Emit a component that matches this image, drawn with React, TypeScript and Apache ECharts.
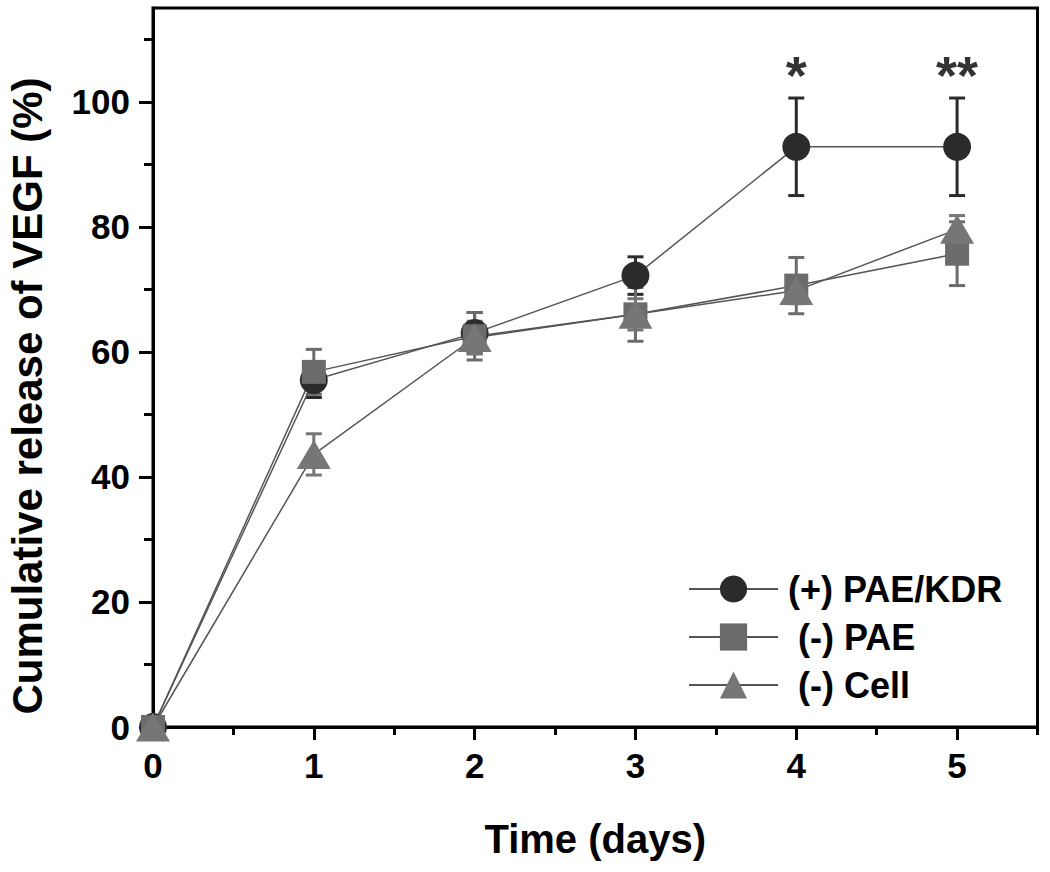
import React, { useEffect, useRef } from "react";
import * as echarts from "echarts";

const days = [0, 1, 2, 3, 4, 5];
const paeKdrMean = [0, 55.5, 63.0, 72.2, 92.8, 92.8];
const paeKdrErr = [0, 2.8, 3.3, 3.0, 7.8, 7.8];
const paeMean = [0, 56.8, 62.5, 66.0, 70.6, 75.7];
const paeErr = [0, 3.6, 3.8, 4.3, 4.5, 5.1];
const cellMean = [0, 43.6, 62.3, 66.0, 69.8, 79.6];
const cellErr = [0, 3.3, 2.6, 2.5, 2.1, 2.2];
const sigDays = [4, 5];
const sigLabels = ["*", "**"];
const seriesNames = ["(+) PAE/KDR", "(-) PAE", "(-) Cell"];
const xMajorTicks = [0, 1, 2, 3, 4, 5];
const xMinorTicks = [0.5, 1.5, 2.5, 3.5, 4.5, 5.5];
const yMajorTicks = [0, 20, 40, 60, 80, 100];
const yMinorTicks = [10, 30, 50, 70, 90, 110];

const FONT = "'Liberation Sans', Arial, Helvetica, sans-serif";
const C_CIRCLE = "#2b2b2b";
const C_SQUARE = "#6b6b6b";
const C_TRI = "#767676";
const C_LINE = "#555555";

const errRender = (color: string) => (params: any, api: any) => {
  const x = api.value(0);
  const lo = api.value(1);
  const hi = api.value(2);
  if (hi === lo) return null;
  const pLo = api.coord([x, lo]);
  const pHi = api.coord([x, hi]);
  const hw = 8;
  const style = { stroke: color, lineWidth: 3 };
  return {
    type: "group",
    children: [
      { type: "line", shape: { x1: pLo[0], y1: pLo[1], x2: pHi[0], y2: pHi[1] }, style },
      { type: "line", shape: { x1: pHi[0] - hw, y1: pHi[1], x2: pHi[0] + hw, y2: pHi[1] }, style },
      { type: "line", shape: { x1: pLo[0] - hw, y1: pLo[1], x2: pLo[0] + hw, y2: pLo[1] }, style },
    ],
  };
};

const errData = (mean: number[], err: number[]) =>
  days.map((d, i) => [d, mean[i] - err[i], mean[i] + err[i]]);

export default function App() {
  const ref = useRef<HTMLDivElement>(null);
  useEffect(() => {
    if (!ref.current) return;
    const chart = echarts.init(ref.current, undefined, { renderer: "svg" });
    const axisCommon = {
      type: "value" as const,
      splitLine: { show: false },
    };
    chart.setOption({
      animation: false,
      backgroundColor: "#ffffff",
      textStyle: { fontFamily: FONT },
      grid: {
        left: 153,
        right: 12.5,
        top: 8,
        bottom: 145,
        show: true,
        borderColor: "#000",
        borderWidth: 3,
        backgroundColor: "transparent",
      },
      xAxis: [
        {
          ...axisCommon,
          position: "bottom",
          min: 0,
          max: 5.5,
          interval: 0.5,
          axisLine: { show: true, lineStyle: { color: "#000", width: 3 } },
          axisTick: { show: true, inside: false, length: 13, customValues: xMajorTicks, lineStyle: { color: "#000", width: 3 } },
          axisLabel: {
            customValues: xMajorTicks,
            margin: 21,
            color: "#000",
            fontSize: 35,
            fontWeight: "bold",
            fontFamily: FONT,
          },
          name: "Time (days)",
          nameLocation: "middle",
          nameGap: 92,
          nameTextStyle: { fontSize: 40, fontWeight: "bold", color: "#000", fontFamily: FONT },
        },
        {
          ...axisCommon,
          position: "bottom",
          min: 0,
          max: 5.5,
          interval: 0.5,
          axisLine: { show: false },
          axisTick: { show: true, inside: false, length: 8, customValues: xMinorTicks, lineStyle: { color: "#000", width: 3 } },
          axisLabel: { show: false },
        },
      ],
      yAxis: [
        {
          ...axisCommon,
          position: "left",
          min: 0,
          max: 115,
          interval: 20,
          axisLine: { show: true, lineStyle: { color: "#000", width: 3 } },
          axisTick: { show: true, inside: false, length: 14, customValues: yMajorTicks, lineStyle: { color: "#000", width: 3 } },
          axisLabel: {
            customValues: yMajorTicks,
            margin: 23,
            color: "#000",
            fontSize: 35,
            fontWeight: "bold",
            fontFamily: FONT,
          },
        },
        {
          ...axisCommon,
          position: "left",
          min: 0,
          max: 115,
          interval: 10,
          axisLine: { show: false },
          axisTick: { show: true, inside: false, length: 9, customValues: yMinorTicks, lineStyle: { color: "#000", width: 3 } },
          axisLabel: { show: false },
        },
      ],
      legend: {
        orient: "vertical",
        left: 683,
        top: 566,
        itemWidth: 89,
        itemHeight: 34,
        itemGap: 12,
        textStyle: { fontSize: 36, fontWeight: "bold", color: "#000", fontFamily: FONT, lineHeight: 34 },
        data: [
          { name: seriesNames[0], textStyle: { padding: [0, 0, 0, 5] } },
          { name: seriesNames[1], textStyle: { padding: [0, 0, 0, 15] } },
          { name: seriesNames[2], textStyle: { padding: [0, 0, 0, 15] } },
        ],
      },
      graphic: [
        {
          type: "text",
          x: 27,
          y: 396,
          rotation: Math.PI / 2,
          style: {
            text: "Cumulative release of VEGF (%)",
            fontSize: 42,
            fontWeight: "bold",
            fontFamily: FONT,
            fill: "#000",
            align: "center",
            verticalAlign: "middle",
          },
        },
      ],
      series: [
        {
          name: "err0",
          type: "custom",
          renderItem: errRender(C_CIRCLE),
          data: errData(paeKdrMean, paeKdrErr),
          encode: { x: 0, y: [1, 2] },
          z: 2,
        },
        {
          name: "err1",
          type: "custom",
          renderItem: errRender(C_SQUARE),
          data: errData(paeMean, paeErr),
          encode: { x: 0, y: [1, 2] },
          z: 2,
        },
        {
          name: "err2",
          type: "custom",
          renderItem: errRender(C_TRI),
          data: errData(cellMean, cellErr),
          encode: { x: 0, y: [1, 2] },
          z: 2,
        },
        {
          name: seriesNames[0],
          type: "line",
          data: days.map((d, i) => [d, paeKdrMean[i]]),
          symbol: "circle",
          symbolSize: 28,
          itemStyle: { color: C_CIRCLE },
          lineStyle: { color: C_LINE, width: 1.5 },
          z: 3,
        },
        {
          name: seriesNames[1],
          type: "line",
          data: days.map((d, i) => [d, paeMean[i]]),
          symbol: "rect",
          symbolSize: 24,
          itemStyle: { color: C_SQUARE },
          lineStyle: { color: C_LINE, width: 1.5 },
          z: 3,
        },
        {
          name: seriesNames[2],
          type: "line",
          data: days.map((d, i) => [d, cellMean[i]]),
          symbol: "triangle",
          symbolSize: [34, 29],
          itemStyle: { color: C_TRI },
          lineStyle: { color: C_LINE, width: 1.5 },
          z: 3,
        },
        {
          name: "significance",
          type: "scatter",
          symbolSize: 0,
          data: sigDays.map((d, i) => {
            const idx = days.indexOf(d);
            return { value: [d, paeKdrMean[idx] + paeKdrErr[idx]], label: { formatter: sigLabels[i] } };
          }),
          label: {
            show: true,
            position: "top",
            distance: 0,
            offset: [0, 4],
            fontSize: 54,
            fontWeight: "bold",
            color: "#000",
            fontFamily: FONT,
          },
          z: 4,
        },
      ],
    });
    return () => chart.dispose();
  }, []);
  return (
    <div
      ref={ref}
      style={{ position: "absolute", left: 0, top: 0, width: 1050, height: 872 }}
    />
  );
}
